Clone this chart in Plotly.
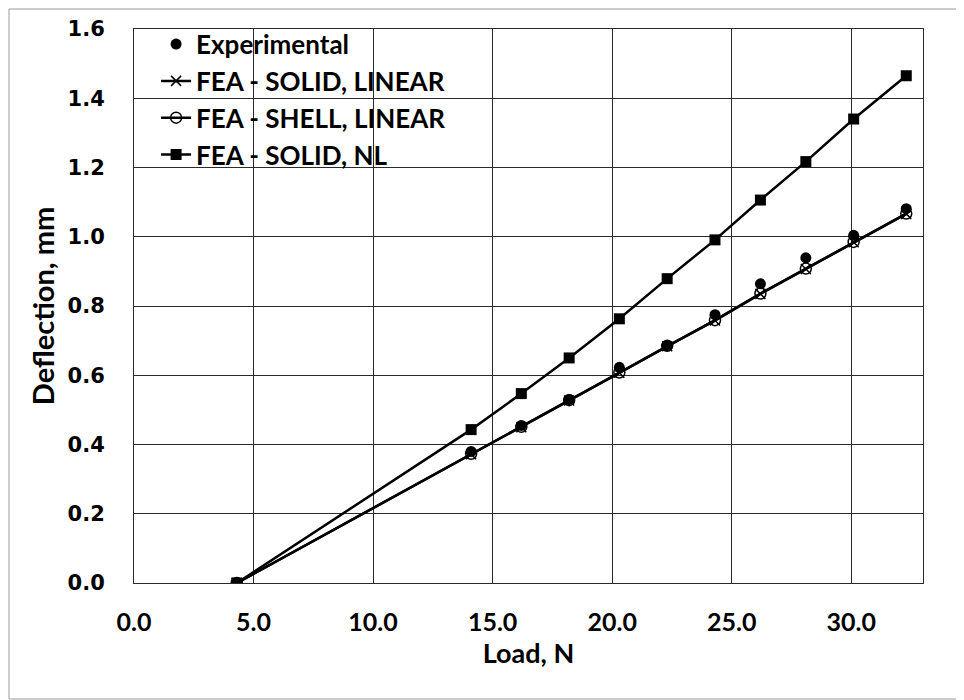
import plotly.graph_objects as go

# Load (N) and deflection (mm)
load = [4.3, 14.1, 16.2, 18.2, 20.3, 22.3, 24.3, 26.2, 28.1, 30.1, 32.3]
experimental = [0.0, 0.38, 0.455, 0.53, 0.623, 0.685, 0.775, 0.864, 0.939, 1.004, 1.081]
solid_linear = [0.0, 0.372, 0.450, 0.527, 0.607, 0.684, 0.758, 0.835, 0.907, 0.984, 1.066]
shell_linear = [0.0, 0.373, 0.451, 0.528, 0.608, 0.685, 0.759, 0.836, 0.908, 0.985, 1.067]
solid_nl = [0.0, 0.443, 0.547, 0.650, 0.763, 0.879, 0.991, 1.106, 1.217, 1.340, 1.465]

x_ticks = [0, 5, 10, 15, 20, 25, 30]
y_ticks = [0.0, 0.2, 0.4, 0.6, 0.8, 1.0, 1.2, 1.4, 1.6]

FONT = "Lato, 'Open Sans', sans-serif"
BLACK = "#000000"
GRID = "#2a2a2a"

fig = go.Figure()

fig.add_trace(go.Scatter(
    x=load, y=experimental, name="Experimental", mode="markers", legendgroup="a",
    marker=dict(symbol="circle", size=11, color=BLACK),
))
fig.add_trace(go.Scatter(
    x=load, y=solid_linear, name="FEA - SOLID, LINEAR", mode="lines+markers", legendgroup="b",
    line=dict(color=BLACK, width=2.5),
    marker=dict(symbol="x-thin", size=10, color=BLACK, line=dict(color=BLACK, width=1.5)),
))
fig.add_trace(go.Scatter(
    x=load, y=shell_linear, name="FEA - SHELL, LINEAR", mode="lines+markers", legendgroup="c",
    line=dict(color=BLACK, width=2.5),
    marker=dict(symbol="circle-open", size=11, color=BLACK, line=dict(color=BLACK, width=1.5)),
))
fig.add_trace(go.Scatter(
    x=load, y=solid_nl, name="FEA - SOLID, NL", mode="lines+markers", legendgroup="d",
    line=dict(color=BLACK, width=2.5),
    marker=dict(symbol="square", size=11, color=BLACK),
))

# page body adds an 8px margin, so the figure is 8px smaller than the window
fig.update_layout(
    width=956, height=692,
    paper_bgcolor="white", plot_bgcolor="white",
    margin=dict(l=126, r=41, t=21, b=117),
    font=dict(family=FONT, size=20, color=BLACK),
    showlegend=True,
    legend=dict(
        x=0.028, y=1.015, xanchor="left", yanchor="top",
        bgcolor="rgba(0,0,0,0)", borderwidth=0,
        font=dict(family=FONT, size=26, color=BLACK, weight="bold"),
        itemwidth=30, tracegroupgap=0, traceorder="grouped",
    ),
    shapes=[dict(
        type="rect", xref="paper", yref="paper",
        x0=-125 / 789.0, x1=1 + 40 / 789.0, y0=-116 / 554.0, y1=1 + 20 / 554.0,
        line=dict(color="#9a9a9a", width=1), layer="below",
    )],
)

fig.update_xaxes(
    range=[0, 33], tickvals=x_ticks, ticktext=[f"{v:.1f}" for v in x_ticks],
    showgrid=True, gridcolor=GRID, gridwidth=1,
    showline=True, linecolor=GRID, linewidth=1, mirror=True,
    zeroline=False, ticks="", ticklabelstandoff=17, automargin=False,
    tickfont=dict(family=FONT, size=25, weight="bold"),
    title=dict(text="Load, N", standoff=6, font=dict(family=FONT, size=27, weight="bold")),
)
fig.update_yaxes(
    range=[0, 1.6], tickvals=y_ticks, ticktext=[f"{v:.1f}" for v in y_ticks],
    showgrid=True, gridcolor=GRID, gridwidth=1,
    showline=True, linecolor=GRID, linewidth=1, mirror=True,
    zeroline=False, ticks="", ticklabelstandoff=24, automargin=False,
    tickfont=dict(family="'DejaVu Sans', sans-serif", size=21, weight="bold"),
    title=dict(text="Deflection, mm", standoff=4, font=dict(family=FONT, size=29, weight="bold")),
)

fig.write_html("out.html")
